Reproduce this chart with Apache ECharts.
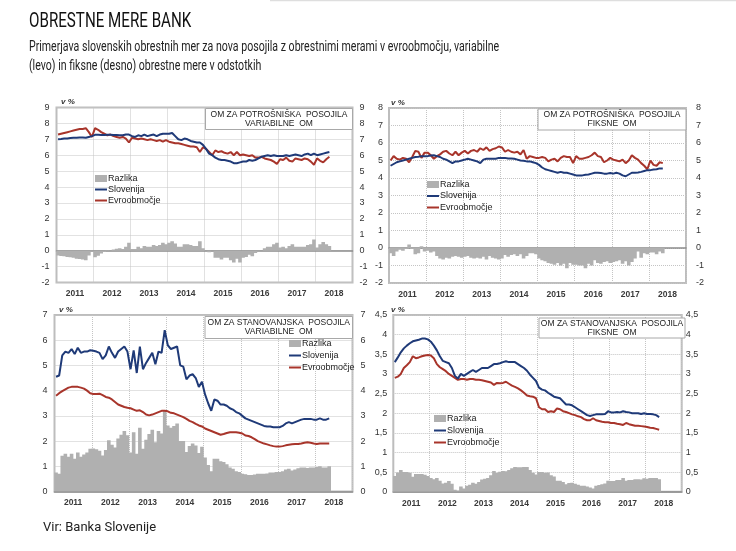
<!DOCTYPE html>
<html><head><meta charset="utf-8">
<script src="https://cdn.jsdelivr.net/npm/echarts@6/dist/echarts.min.js"></script>
<style>html,body{margin:0;padding:0;background:#fff}#c{width:736px;height:551px}</style>
</head><body><div id="c"></div>
<script>
// ---- DATA ----
const years = ['2011','2012','2013','2014','2015','2016','2017','2018'];
const legendNames = ['Razlika','Slovenija','Evroobmočje'];

// Potrošniška posojila – variabilne OM (Jan 2011 – May 2018)
const potVarSI = [7.0,7.02,7.05,7.05,7.08,7.1,7.1,7.12,7.12,7.1,7.15,7.2,
 7.28,7.28,7.27,7.27,7.28,7.28,7.27,7.27,7.26,7.25,7.3,7.3,
 7.2,7.15,7.25,7.2,7.3,7.2,7.25,7.3,7.2,7.3,7.35,7.35,
 7.35,7.4,7.2,7.0,6.95,7.05,7.0,6.9,6.85,6.8,6.8,6.65,
 6.4,6.1,6.0,5.85,5.75,5.7,5.7,5.65,5.6,5.5,5.5,5.55,
 5.6,5.6,5.7,5.65,5.7,5.8,5.9,5.95,6.0,5.95,6.0,5.95,
 5.95,5.95,6.0,5.95,6.0,6.05,6.0,5.95,6.05,6.1,6.0,6.1,
 6.0,6.05,6.1,6.15,6.2];
const potVarEA = [7.3,7.35,7.4,7.45,7.5,7.55,7.6,7.65,7.65,7.7,7.45,7.15,
 7.7,7.6,7.45,7.35,7.25,7.3,7.2,7.15,7.1,7.15,7.05,6.8,
 7.1,7.05,7.0,7.05,7.0,6.95,7.0,6.95,6.9,6.95,6.85,6.95,
 6.85,6.8,6.75,6.75,6.7,6.65,6.6,6.55,6.55,6.5,6.2,6.5,
 6.4,6.2,6.0,6.3,6.2,6.25,6.15,6.1,6.2,6.0,6.2,6.0,
 6.05,6.0,5.95,6.0,5.85,5.85,5.9,5.8,5.75,5.7,5.6,5.45,
 5.75,5.7,5.85,5.65,5.6,5.8,5.75,5.7,5.8,5.75,5.6,5.4,
 5.8,5.65,5.55,5.75,5.9];
const potVarDiff = [-0.3,-0.33,-0.35,-0.4,-0.42,-0.45,-0.5,-0.53,-0.55,-0.6,-0.3,-0.05,
 -0.42,-0.32,-0.18,-0.08,0.03,-0.02,0.07,0.12,0.16,0.1,0.25,0.5,
 0.1,0.1,0.25,0.15,0.3,0.25,0.25,0.35,0.3,0.35,0.5,0.4,
 0.5,0.6,0.45,0.25,0.25,0.4,0.4,0.35,0.3,0.3,0.6,0.15,
 0.0,-0.1,0.0,-0.45,-0.45,-0.55,-0.45,-0.45,-0.6,-0.75,-0.5,-0.75,
 -0.45,-0.4,-0.25,-0.35,-0.15,-0.05,0.0,0.15,0.25,0.25,0.4,0.5,
 0.2,0.25,0.15,0.3,0.4,0.25,0.25,0.25,0.25,0.35,0.4,0.7,
 0.2,0.4,0.55,0.4,0.3];

// Potrošniška posojila – fiksne OM
const potFixSI = [4.7,4.8,4.9,4.95,5.0,5.05,5.1,5.15,5.2,5.22,5.25,5.25,
 5.25,5.28,5.3,5.25,5.2,5.1,5.05,4.95,4.85,4.95,4.95,5.0,
 5.05,5.1,5.05,5.0,4.95,4.85,5.05,5.1,5.1,5.1,5.1,5.15,
 5.15,5.15,5.12,5.12,5.1,5.05,5.0,4.98,4.95,4.95,4.9,4.85,
 4.75,4.6,4.5,4.45,4.4,4.35,4.3,4.35,4.3,4.3,4.25,4.2,
 4.15,4.15,4.15,4.18,4.2,4.25,4.3,4.3,4.28,4.25,4.25,4.28,
 4.25,4.3,4.25,4.15,4.1,4.2,4.3,4.3,4.32,4.35,4.4,4.45,
 4.45,4.48,4.5,4.55,4.55];
const potFixEA = [5.0,5.25,5.1,5.05,5.15,5.1,4.9,5.2,5.55,5.5,5.15,5.45,
 5.45,5.3,5.1,5.25,5.35,5.5,5.55,5.4,5.3,5.5,5.3,5.45,
 5.55,5.4,5.55,5.6,5.5,5.7,5.6,5.75,5.55,5.65,5.7,5.8,
 5.75,5.5,5.6,5.5,5.45,5.5,5.35,5.6,5.1,5.25,5.2,5.15,
 5.15,5.2,5.15,4.95,5.05,5.1,4.95,5.15,5.25,5.2,5.2,4.85,
 5.25,5.1,5.1,5.15,5.2,5.3,5.45,5.25,5.2,4.9,5.0,5.15,
 5.05,5.0,4.95,5.05,4.85,5.0,5.3,5.15,5.05,4.85,4.7,4.5,
 5.0,4.75,4.7,4.9,4.85];
const potFixDiff = [-0.3,-0.45,-0.2,-0.1,-0.15,-0.05,0.2,-0.05,-0.35,-0.3,0.1,-0.2,
 -0.15,-0.25,-0.2,-0.45,-0.6,-0.65,-0.55,-0.6,-0.5,-0.45,-0.5,-0.55,
 -0.5,-0.45,-0.55,-0.6,-0.55,-0.6,-0.5,-0.65,-0.45,-0.55,-0.6,-0.65,
 -0.6,-0.4,-0.5,-0.4,-0.35,-0.45,-0.35,-0.6,-0.45,-0.3,-0.3,-0.35,
 -0.6,-0.7,-0.75,-0.85,-0.9,-0.95,-0.85,-1.0,-0.9,-1.15,-0.85,-0.95,
 -0.95,-1.0,-1.0,-1.15,-0.9,-1.0,-0.7,-0.85,-0.9,-0.8,-0.75,-0.85,
 -0.8,-0.75,-0.7,-0.9,-0.75,-1.0,-0.8,-0.6,-0.2,-0.55,-0.3,-0.35,
 -0.25,-0.25,-0.35,-0.2,-0.3];

// Stanovanjska posojila – variabilne OM
const stanVarSI = [4.55,4.6,5.4,5.55,5.5,5.65,5.45,5.7,5.5,5.55,5.55,5.6,
 5.58,5.55,5.5,5.25,5.4,5.75,5.5,5.3,5.55,5.65,5.75,5.55,
 4.85,5.6,4.7,5.75,4.85,5.1,5.3,5.5,5.05,5.55,5.5,6.4,
 5.8,5.65,5.7,5.75,5.0,4.95,4.45,4.6,4.65,4.5,4.15,4.35,
 3.85,3.5,3.2,3.65,3.6,3.45,3.45,3.4,3.3,3.25,3.15,3.1,
 3.0,2.9,2.85,2.8,2.75,2.7,2.65,2.6,2.58,2.58,2.55,2.55,
 2.55,2.6,2.7,2.75,2.7,2.75,2.8,2.85,2.88,2.88,2.88,2.85,
 2.85,2.9,2.85,2.85,2.9];
const stanVarEA = [3.8,3.9,3.98,4.05,4.12,4.15,4.15,4.15,4.12,4.08,4.0,3.9,
 3.87,3.87,3.88,3.82,3.75,3.72,3.65,3.55,3.45,3.4,3.35,3.32,
 3.3,3.25,3.2,3.22,3.15,3.05,3.02,3.05,3.1,3.15,3.2,3.2,
 3.18,3.12,3.1,3.05,3.0,2.95,2.88,2.8,2.75,2.68,2.62,2.58,
 2.5,2.45,2.4,2.35,2.3,2.25,2.28,2.32,2.35,2.35,2.35,2.33,
 2.3,2.22,2.2,2.15,2.08,2.0,1.95,1.9,1.87,1.83,1.8,1.78,
 1.78,1.8,1.83,1.85,1.87,1.88,1.88,1.9,1.93,1.95,1.93,1.9,
 1.88,1.9,1.9,1.9,1.9];
const stanVarDiff = [0.75,0.7,1.42,1.5,1.38,1.5,1.3,1.55,1.38,1.47,1.55,1.7,
 1.71,1.68,1.62,1.43,1.65,2.03,1.85,1.75,2.1,2.25,2.4,2.23,
 1.55,2.35,1.5,2.53,1.7,2.05,2.28,2.45,1.95,2.4,2.3,3.2,
 2.62,2.53,2.6,2.7,2.0,2.0,1.57,1.8,1.9,1.82,1.53,1.77,
 1.35,1.05,0.8,1.3,1.3,1.2,1.17,1.08,0.95,0.9,0.8,0.77,
 0.7,0.68,0.65,0.65,0.67,0.7,0.7,0.7,0.71,0.75,0.75,0.77,
 0.77,0.8,0.87,0.9,0.83,0.87,0.92,0.95,0.95,0.93,0.95,0.95,
 0.97,1.0,0.95,0.95,1.0];

// Stanovanjska posojila – fiksne OM
const stanFixSI = [3.3,3.42,3.55,3.65,3.72,3.78,3.83,3.85,3.87,3.9,3.9,3.88,
 3.82,3.72,3.6,3.45,3.33,3.3,3.27,3.15,2.95,2.88,3.0,2.95,
 3.0,3.05,3.1,3.05,3.1,3.15,3.15,3.15,3.2,3.25,3.25,3.27,
 3.3,3.32,3.3,3.3,3.3,3.25,3.2,3.15,3.08,2.98,2.9,2.82,
 2.65,2.6,2.58,2.52,2.47,2.42,2.4,2.38,2.3,2.22,2.22,2.2,
 2.15,2.1,2.05,2.0,1.95,1.93,1.95,1.97,1.97,1.97,1.98,2.05,
 2.02,2.02,2.03,2.02,2.05,2.03,2.02,2.0,2.0,2.0,1.98,2.0,
 1.98,1.98,1.97,1.95,1.9];
const stanFixEA = [2.9,2.93,3.0,3.15,3.22,3.3,3.45,3.4,3.42,3.45,3.47,3.48,
 3.47,3.4,3.25,3.17,3.12,3.07,3.0,2.95,2.9,2.85,2.87,2.87,
 2.85,2.87,2.87,2.85,2.85,2.84,2.82,2.8,2.78,2.72,2.77,2.76,
 2.77,2.8,2.75,2.7,2.67,2.63,2.58,2.52,2.45,2.43,2.42,2.38,
 2.15,2.1,2.1,2.03,2.05,2.03,2.12,2.1,2.05,2.03,2.0,1.97,
 1.95,1.92,1.9,1.85,1.82,1.82,1.87,1.82,1.8,1.78,1.77,1.77,
 1.75,1.75,1.73,1.72,1.7,1.75,1.72,1.7,1.68,1.68,1.67,1.66,
 1.65,1.63,1.62,1.6,1.58];
const stanFixDiff = [0.4,0.49,0.55,0.5,0.5,0.48,0.38,0.45,0.45,0.45,0.43,0.4,
 0.35,0.32,0.35,0.28,0.21,0.23,0.27,0.2,0.05,0.03,0.13,0.08,
 0.15,0.18,0.23,0.2,0.25,0.31,0.33,0.35,0.42,0.53,0.48,0.51,
 0.53,0.52,0.55,0.6,0.63,0.62,0.62,0.63,0.63,0.55,0.48,0.44,
 0.5,0.5,0.48,0.49,0.42,0.39,0.28,0.28,0.25,0.19,0.22,0.23,
 0.2,0.18,0.15,0.15,0.13,0.11,0.08,0.15,0.17,0.19,0.21,0.28,
 0.27,0.27,0.3,0.3,0.35,0.28,0.3,0.3,0.32,0.32,0.31,0.34,
 0.33,0.35,0.35,0.35,0.32];

// monthly categories built from years
const months = [];
years.forEach(y => { for (let m = 1; m <= 12; m++) months.push(y + '-' + (m < 10 ? '0' + m : m)); });

// ---- LAYOUT / STYLE ----
const FONT = "'Liberation Sans', Arial, sans-serif";
const HEAD = "Roboto, 'Noto Sans', sans-serif";
const C_SI = '#1f3a78', C_EA = '#a8352b', C_BAR = '#b0b0b0';

const panels = [
  {box: ['OM ZA POTROŠNIŠKA  POSOJILA', 'VARIABILNE  OM'], si: potVarSI, ea: potVarEA, diff: potVarDiff,
   min: -2, max: 9, interval: 1, lm: 7, rm: 7,
   grid: {left: 56.5, top: 107.5, width: 296, height: 175},
   boxR: {x: 205.5, y: 108.5, w: 147, h: 21}, legend: {left: 94, top: 173, gap: 0}, vp: {x: 61, y: 102}},
  {box: ['OM ZA POTROŠNIŠKA  POSOJILA', 'FIKSNE  OM'], si: potFixSI, ea: potFixEA, diff: potFixDiff,
   min: -2, max: 8, interval: 1, lm: 6, rm: 10,
   grid: {left: 389, top: 108, width: 297, height: 175},
   boxR: {x: 538, y: 109, w: 148, h: 21}, legend: {left: 426, top: 179, gap: 0.5}, vp: {x: 391, y: 103}},
  {box: ['OM ZA STANOVANJSKA  POSOJILA', 'VARIABILNE  OM'], si: stanVarSI, ea: stanVarEA, diff: stanVarDiff,
   min: 0, max: 7, interval: 1, lm: 7, rm: 8,
   grid: {left: 54.5, top: 315, width: 298, height: 176.5},
   boxR: {x: 205, y: 316.5, w: 147.5, h: 22}, legend: {left: 288, top: 338, gap: 1}, vp: {x: 59, y: 310}},
  {box: ['OM ZA STANOVANJSKA  POSOJILA', 'FIKSNE  OM'], si: stanFixSI, ea: stanFixEA, diff: stanFixDiff,
   min: 0, max: 4.5, interval: 0.5, lm: 6, rm: 4,
   grid: {left: 393.3, top: 315, width: 288.4, height: 176.7},
   boxR: {x: 539, y: 318, w: 146, h: 20}, legend: {left: 433, top: 413, gap: 1}, vp: {x: 391, y: 310}}
];

const fmt = v => String(v).replace('.', ',');
const option = {animation: false, backgroundColor: '#fff', grid: [], xAxis: [], yAxis: [], series: [], legend: [], graphic: []};

panels.forEach((p, k) => {
  option.grid.push(Object.assign({show: true, borderColor: '#bdbdbd', borderWidth: 2, backgroundColor: 'transparent'}, p.grid));
  // monthly axis (marks, zero line, year gridlines)
  option.xAxis.push({
    type: 'category', gridIndex: k, data: months, boundaryGap: true,
    axisLine: {show: true, onZero: true, lineStyle: {color: '#8c8c8c', width: 1.5}},
    axisTick: {show: false}, axisLabel: {show: false},
    splitLine: {show: true, interval: (i) => i % 12 === 0 && i > 0, lineStyle: {color: '#c4c4c4', type: 'dotted', width: 1}}
  });
  // year label axis
  option.xAxis.push({
    type: 'category', gridIndex: k, data: years, boundaryGap: true, position: 'bottom',
    axisLine: {show: false, onZero: false}, axisTick: {show: false}, splitLine: {show: false},
    axisLabel: {show: true, margin: 7, fontSize: 8.5, fontFamily: FONT, fontWeight: 'bold', color: '#3a3a3a'}
  });
  const yBase = {type: 'value', gridIndex: k, min: p.min, max: p.max, interval: p.interval,
    axisLine: {show: false}, axisTick: {show: false}};
  const lab = m => ({fontSize: 9, fontFamily: FONT, color: '#333', margin: m, formatter: fmt});
  option.yAxis.push(Object.assign({}, yBase, {position: 'left', axisLabel: lab(p.lm),
    splitLine: {show: true, lineStyle: {color: '#c4c4c4', type: 'dotted', width: 1}}}));
  option.yAxis.push(Object.assign({}, yBase, {position: 'right', axisLabel: lab(p.rm), splitLine: {show: false}}));

  option.series.push({name: 'Razlika', type: 'bar', xAxisIndex: 2 * k, yAxisIndex: 2 * k, data: p.diff,
    barWidth: 3.6, large: true, largeThreshold: 20, itemStyle: {color: C_BAR}, z: 1});
  option.series.push({name: 'Slovenija', type: 'line', xAxisIndex: 2 * k, yAxisIndex: 2 * k, data: p.si,
    symbol: 'none', lineStyle: {color: C_SI, width: 2}, itemStyle: {color: C_SI}, z: 3});
  option.series.push({name: 'Evroobmočje', type: 'line', xAxisIndex: 2 * k, yAxisIndex: 2 * k, data: p.ea,
    symbol: 'none', lineStyle: {color: C_EA, width: 2}, itemStyle: {color: C_EA}, z: 2});

  option.legend.push({
    orient: 'vertical', left: p.legend.left, top: p.legend.top, padding: 0, itemGap: p.legend.gap,
    itemWidth: 12, itemHeight: 7, selectedMode: false,
    data: [{name: 'Razlika', icon: 'rect'},
           {name: 'Slovenija', itemStyle: {opacity: 0}},
           {name: 'Evroobmočje', itemStyle: {opacity: 0}}],
    textStyle: {fontSize: 9, fontFamily: FONT, color: '#222', lineHeight: 11, padding: [0, 0, 0, -4]}
  });

  option.graphic.push({type: 'rect', shape: {x: p.boxR.x, y: p.boxR.y, width: p.boxR.w, height: p.boxR.h},
    style: {fill: '#fff', stroke: '#a8a8a8', lineWidth: 1}, z: 10});
  option.graphic.push({type: 'text', x: p.boxR.x + p.boxR.w / 2, y: p.boxR.y + p.boxR.h / 2, z: 11,
    style: {text: p.box.join('\n'), fill: '#222', font: '8.5px ' + FONT, align: 'center', verticalAlign: 'middle', lineHeight: 9}});
  option.graphic.push({type: 'text', x: p.vp.x, y: p.vp.y, z: 11,
    style: {text: 'v %', fill: '#333', font: 'italic bold 8px ' + FONT, verticalAlign: 'middle'}});
});

// headings
option.graphic.push({type: 'line', shape: {x1: 270, y1: 0.5, x2: 736, y2: 0.5}, style: {stroke: '#dedede', lineWidth: 1.5}});
option.graphic.push({type: 'text', x: 29, y: 22, scaleX: 0.758, style: {text: 'OBRESTNE MERE BANK', fill: '#111', font: '20px ' + HEAD, verticalAlign: 'middle'}});
option.graphic.push({type: 'text', x: 29, y: 47, scaleX: 0.73, style: {text: 'Primerjava slovenskih obrestnih mer za nova posojila z obrestnimi merami v evroobmočju, variabilne', fill: '#222', font: '14.5px ' + HEAD, verticalAlign: 'middle'}});
option.graphic.push({type: 'text', x: 29, y: 66.5, scaleX: 0.73, style: {text: '(levo) in fiksne (desno) obrestne mere v odstotkih', fill: '#222', font: '14.5px ' + HEAD, verticalAlign: 'middle'}});
option.graphic.push({type: 'text', x: 43, y: 527.5, style: {text: 'Vir: Banka Slovenije', fill: '#222', font: '13px ' + HEAD, verticalAlign: 'middle'}});

const chart = echarts.init(document.getElementById('c'), null, {renderer: 'canvas'});
chart.setOption(option);
</script>
</body></html>
